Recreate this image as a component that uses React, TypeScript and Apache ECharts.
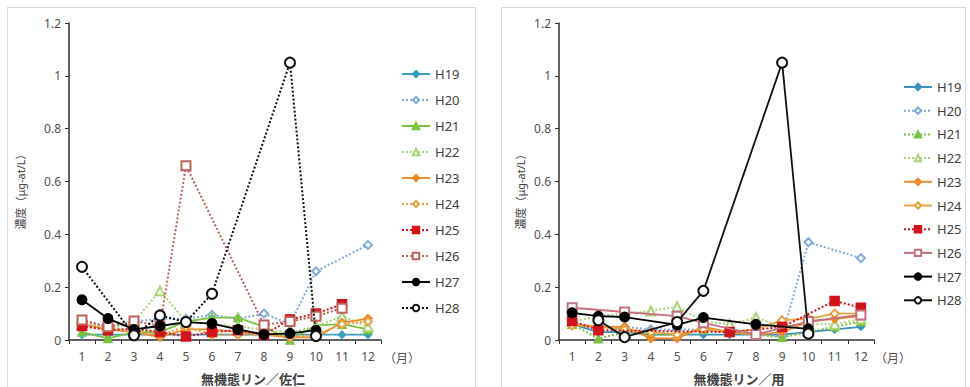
import React, { useEffect, useRef } from "react";
import * as echarts from "echarts";

const months = ["1", "2", "3", "4", "5", "6", "7", "8", "9", "10", "11", "12"];
const yearNames = ["H19", "H20", "H21", "H22", "H23", "H24", "H25", "H26", "H27", "H28"];

// 佐仁 (left)
const saniH19 = [0.02, 0.02, 0.02, 0.02, 0.02, 0.02, 0.02, 0.02, 0.02, 0.02, 0.02, 0.02];
const saniH20 = [0.06, 0.05, 0.07, 0.08, 0.08, 0.095, 0.08, 0.1, 0.06, 0.26, null, 0.36];
const saniH21 = [0.03, 0.006, 0.03, 0.03, 0.07, 0.085, 0.085, 0.05, 0.0, 0.055, 0.06, 0.04];
const saniH22 = [0.06, 0.04, 0.07, 0.186, 0.07, 0.06, 0.05, 0.04, 0.03, 0.05, 0.09, 0.05];
const saniH23 = [0.06, 0.04, 0.03, 0.011, 0.04, 0.04, 0.03, 0.02, 0.01, 0.01, 0.066, 0.081];
const saniH24 = [0.07, 0.05, 0.03, 0.02, 0.05, 0.02, 0.02, 0.02, 0.01, 0.02, 0.06, 0.07];
const saniH25 = [0.053, 0.037, 0.043, 0.03, 0.013, 0.03, 0.037, 0.02, 0.078, 0.1, 0.135, null];
const saniH26 = [0.076, 0.05, 0.072, 0.053, 0.66, null, null, 0.057, 0.07, 0.09, 0.12, null];
const saniH27 = [0.152, 0.081, 0.04, 0.053, 0.068, 0.062, 0.04, 0.021, 0.025, 0.037, null, null];
const saniH28 = [0.277, null, 0.018, 0.093, 0.068, 0.175, null, null, 1.05, 0.015, null, null];

// 用 (right)
const youH19 = [0.06, 0.03, 0.03, 0.02, 0.02, 0.02, 0.02, 0.02, 0.02, 0.03, 0.04, 0.05];
const youH20 = [0.06, 0.05, 0.05, 0.04, 0.04, 0.04, 0.03, 0.02, 0.015, 0.37, null, 0.31];
const youH21 = [0.06, 0.005, 0.03, 0.02, 0.02, 0.04, 0.03, 0.02, 0.01, 0.03, 0.05, 0.07];
const youH22 = [0.07, 0.09, 0.1, 0.11, 0.126, 0.07, 0.06, 0.085, 0.05, 0.06, 0.06, 0.08];
const youH23 = [0.06, 0.05, 0.05, 0.006, 0.006, 0.05, 0.03, 0.02, 0.03, 0.07, 0.08, 0.09];
const youH24 = [0.055, 0.05, 0.04, 0.03, 0.02, 0.04, 0.03, 0.04, 0.075, 0.08, 0.1, 0.1];
const youH25 = [0.072, 0.037, null, null, null, null, 0.03, null, 0.049, null, 0.148, 0.122];
const youH26 = [0.122, null, 0.106, null, 0.09, 0.065, null, 0.021, null, 0.07, null, 0.095];
const youH27 = [0.103, 0.09, 0.087, null, 0.057, 0.085, null, 0.059, null, 0.042, null, null];
const youH28 = [null, 0.075, 0.011, null, 0.068, 0.186, null, null, 1.05, 0.024, null, null];

const yTicks = [0, 0.2, 0.4, 0.6, 0.8, 1, 1.2];

const colors = ["#3A9FC0", "#7FAADB", "#7CC242", "#A9D47A", "#EE8A2A", "#E8A040", "#D0141A", "#C0605A", "#000000", "#111111"];
const symbols = ["diamond", "emptyDiamond", "triangle", "emptyTriangle", "diamond", "emptyDiamond", "rect", "emptyRect", "circle", "emptyCircle"];
const symbolSizes = [7, 8, 8, 9, 8, 8, 9, 9, 9, 10];
const leftDotted = [false, true, false, true, false, true, true, true, false, true];
const rightDotted = [false, true, true, true, false, false, true, false, false, false];

const leftData = [saniH19, saniH20, saniH21, saniH22, saniH23, saniH24, saniH25, saniH26, saniH27, saniH28];
const rightData = [youH19, youH20, youH21, youH22, youH23, youH24, youH25, youH26, youH27, youH28];

const font = "'Noto Sans', 'Noto Sans CJK JP', sans-serif";

function buildOption(data: (number | null)[][], dotted: boolean[], cfg: any, colorOverride: Record<number, string>) {
  const series = yearNames.map((name, i) => {
    const c = colorOverride[i] || colors[i];
    return {
      name,
      type: "line",
      data: data[i],
      connectNulls: true,
      symbol: symbols[i],
      symbolSize: symbolSizes[i],
      showAllSymbol: true,
      z: 2 + i,
      lineStyle: { color: c, width: dotted[i] ? 2 : 1.8, type: dotted[i] ? "dotted" : "solid" },
      itemStyle: { color: c, borderColor: c, borderWidth: i >= 8 ? 2 : 1.5 },
      emphasis: { disabled: true },
    };
  });
  return {
    animation: false,
    backgroundColor: "#ffffff",
    grid: { left: cfg.gridLeft, top: 15, width: cfg.gridWidth, height: 317 },
    legend: {
      orient: "vertical",
      left: cfg.legendLeft,
      top: cfg.legendTop,
      padding: 0,
      itemWidth: 28,
      itemHeight: 8,
      itemGap: cfg.legendGap,
      data: yearNames,
      textStyle: { fontFamily: font, fontSize: 13, color: "#404040", lineHeight: 14 },
      selectedMode: false,
    },
    xAxis: {
      type: "category",
      data: months,
      boundaryGap: true,
      axisLine: { lineStyle: { color: "#303030", width: 1.5 } },
      axisTick: { show: true, length: 4, lineStyle: { color: "#303030" } },
      axisLabel: { color: "#505050", fontFamily: font, fontSize: 12, margin: 10 },
    },
    yAxis: {
      type: "value",
      min: 0,
      max: 1.2,
      interval: 0.2,
      splitLine: { show: false },
      axisLine: { show: true, lineStyle: { color: "#303030", width: 1.5 } },
      axisTick: { show: true, length: 4, lineStyle: { color: "#303030" } },
      axisLabel: {
        color: "#505050",
        fontFamily: font,
        fontSize: 12,
        margin: 8,
        formatter: (v: number) => (yTicks.indexOf(Math.round(v * 10) / 10) >= 0 ? String(Math.round(v * 10) / 10) : ""),
      },
    },
    graphic: [
      {
        type: "text",
        x: cfg.yNameX,
        y: 181,
        rotation: Math.PI / 2,
        style: { text: "濃度（μg-at/L）", fontFamily: font, fontSize: 11, fill: "#404040", align: "center", verticalAlign: "middle" },
      },
      {
        type: "text",
        x: cfg.xNameX,
        y: 371,
        style: { text: cfg.xName, fontFamily: font, fontSize: 13, fontWeight: "bold", fill: "#404040", align: "center", verticalAlign: "middle" },
      },
      {
        type: "text",
        x: cfg.unitX,
        y: 350,
        style: { text: "（月）", fontFamily: font, fontSize: 12, fill: "#505050", align: "center", verticalAlign: "middle" },
      },
    ],
    series,
  };
}

function Chart({ option, style }: { option: any; style: React.CSSProperties }) {
  const ref = useRef<HTMLDivElement>(null);
  useEffect(() => {
    if (!ref.current) return;
    const chart = echarts.init(ref.current, undefined, { renderer: "svg" });
    chart.setOption(option);
    return () => chart.dispose();
  }, [option]);
  return <div ref={ref} style={style} />;
}

const leftOption = buildOption(leftData, leftDotted, {
  gridLeft: 61,
  gridWidth: 312,
  legendLeft: 393,
  legendTop: 59,
  legendGap: 12,
  yNameX: 12,
  xNameX: 245,
  xName: "無機態リン／佐仁",
  unitX: 394,
}, {});

const rightOption = buildOption(rightData, rightDotted, {
  gridLeft: 57,
  gridWidth: 315,
  legendLeft: 401,
  legendTop: 72,
  legendGap: 9.7,
  yNameX: 18,
  xNameX: 237,
  xName: "無機態リン／用",
  unitX: 391,
}, { 0: "#3A8FC0", 7: "#C47080" });

export default function App() {
  return (
    <div style={{ position: "fixed", left: 0, top: 0, width: 970, height: 387, background: "#fff", overflow: "hidden" }}>
      <Chart option={leftOption} style={{ position: "absolute", left: 7, top: 7, width: 469, height: 390, border: "1px solid #d9d9d9", boxSizing: "border-box" }} />
      <Chart option={rightOption} style={{ position: "absolute", left: 501, top: 7, width: 465, height: 390, border: "1px solid #d9d9d9", boxSizing: "border-box" }} />
    </div>
  );
}
